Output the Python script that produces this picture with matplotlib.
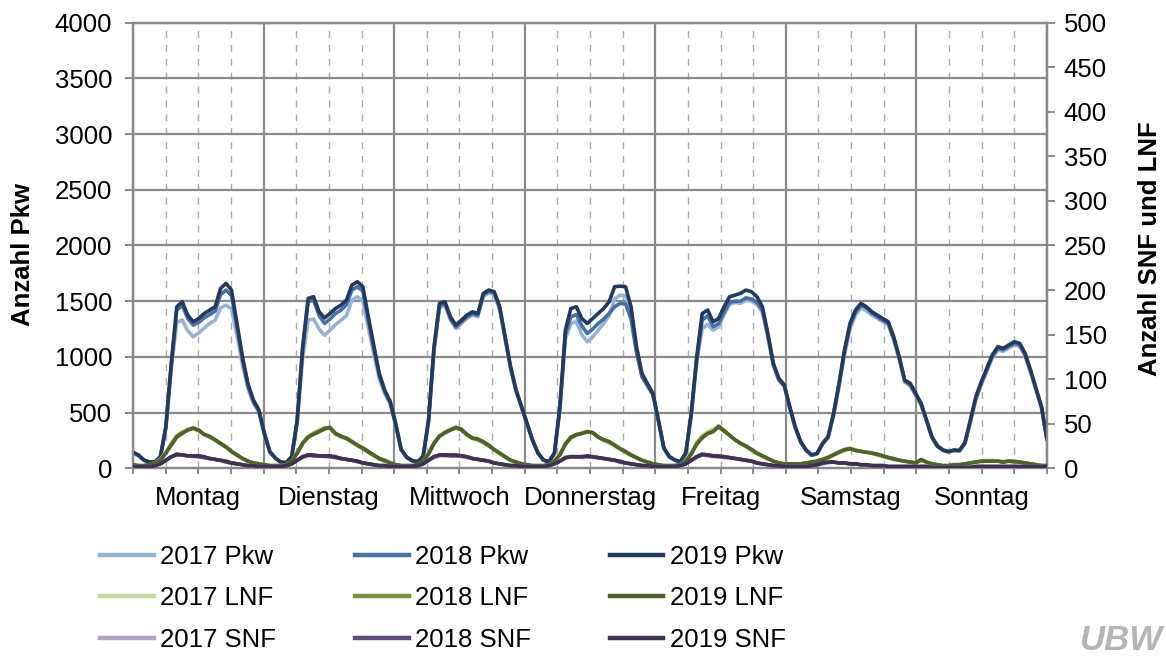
import numpy as np
import matplotlib
matplotlib.use("Agg")
import matplotlib.pyplot as plt
from matplotlib.lines import Line2D

plt.rcParams['font.family'] = ['Liberation Sans', 'DejaVu Sans']

days = ["Montag", "Dienstag", "Mittwoch", "Donnerstag", "Freitag", "Samstag", "Sonntag"]

pkw_2019 = [
    145,120,75,57,57,105,373,945,1450,1495,1375,1315,1345,1390,1420,1450,1615,1660,1600,1300,1000,760,613,523,
    315,150,92,57,50,105,433,1090,1525,1540,1405,1350,1390,1435,1465,1510,1645,1675,1630,1360,1100,850,700,600,
    400,170,100,70,60,105,433,1090,1480,1495,1360,1285,1330,1375,1405,1390,1570,1600,1585,1450,1180,910,703,553,
    404,254,137,75,60,137,553,1240,1435,1450,1345,1300,1345,1390,1435,1495,1630,1635,1630,1450,1090,852,760,673,
    433,182,105,75,60,137,493,1000,1390,1420,1315,1345,1450,1540,1555,1570,1600,1585,1540,1450,1210,942,808,748,
    553,373,240,164,120,135,224,284,493,763,1062,1300,1420,1480,1450,1405,1375,1345,1315,1180,1000,792,763,675,
    583,433,280,200,165,150,165,160,230,433,643,777,897,1017,1091,1077,1106,1136,1122,1032,882,718,553,260,
]
pkw_2018 = [
    140,115,72,55,55,100,365,930,1420,1465,1345,1285,1310,1350,1380,1410,1560,1600,1550,1270,980,745,600,515,
    310,148,90,55,50,102,425,1070,1495,1510,1370,1300,1340,1390,1420,1470,1600,1630,1590,1330,1080,835,690,590,
    395,168,98,68,58,103,425,1075,1460,1480,1345,1270,1315,1360,1390,1375,1555,1590,1575,1440,1170,900,695,548,
    400,250,135,73,58,133,540,1200,1360,1380,1280,1210,1250,1300,1340,1390,1450,1480,1475,1340,1040,820,740,660,
    428,180,103,73,58,133,485,975,1330,1370,1270,1300,1400,1490,1500,1500,1530,1520,1490,1420,1190,930,795,740,
    545,368,236,160,118,132,220,280,485,750,1045,1280,1400,1465,1440,1395,1360,1330,1300,1165,990,785,750,665,
    575,428,276,197,162,148,160,158,225,425,630,765,885,1005,1075,1065,1095,1120,1110,1020,870,710,545,255,
]
pkw_2017 = [
    135,112,70,53,53,98,355,890,1310,1330,1235,1180,1215,1260,1300,1330,1440,1465,1430,1190,930,715,585,505,
    300,145,88,53,48,100,410,990,1330,1340,1250,1195,1240,1290,1330,1370,1510,1540,1500,1260,1030,805,670,575,
    385,165,96,66,56,100,418,1050,1440,1465,1330,1255,1300,1345,1375,1360,1540,1575,1560,1425,1160,890,690,545,
    395,247,133,72,57,130,525,1160,1300,1320,1200,1135,1180,1240,1300,1370,1520,1555,1550,1380,1050,825,745,665,
    420,178,102,72,57,130,475,950,1255,1290,1240,1270,1380,1470,1490,1480,1510,1500,1470,1400,1180,925,790,735,
    535,360,232,158,116,130,215,275,470,730,1020,1250,1375,1440,1415,1375,1345,1315,1285,1150,980,775,740,655,
    565,420,272,195,160,146,158,155,220,415,615,750,870,990,1060,1050,1080,1105,1095,1005,860,700,540,250,
]

lnf_2019 = [
    4,3,3,4,6,9,17,26,35,39,43,45,43,38,36,32,28,24,19,15,11,8,6,5,
    4,3,3,3,4,8,17,28,35,38,41,44,46,39,36,34,30,26,23,19,15,11,9,6,
    4,3,3,3,4,8,16,28,36,40,43,46,44,38,34,33,30,26,21,17,13,9,7,5,
    4,3,3,3,4,8,15,27,35,38,39,41,40,35,32,30,26,22,19,15,12,9,7,5,
    4,3,3,3,4,8,16,27,34,39,41,47,42,37,32,28,25,21,17,14,11,8,6,5,
    5,5,5,6,7,8,10,12,15,18,21,22,20,19,18,17,16,14,12,11,9,8,7,6,
    10,7,5,4,3,3,4,4,5,6,7,8,8,8,8,7,8,8,7,6,5,4,3,3,
]
lnf_2018 = [
    4,3,3,4,6,9,17,27,36,40,43,45,42,38,35,32,28,24,19,15,11,8,6,5,
    4,3,3,3,4,8,17,28,35,39,42,45,45,39,36,33,30,26,22,18,14,11,8,6,
    4,3,3,3,4,8,16,28,36,40,43,45,43,38,34,32,29,25,21,17,13,9,7,5,
    4,3,3,3,4,8,15,27,34,37,39,41,40,35,32,29,26,22,18,15,12,9,7,5,
    4,3,3,3,4,8,16,28,35,39,42,46,42,37,32,28,25,21,17,14,11,8,6,5,
    5,5,5,6,7,8,10,12,15,18,20,22,20,19,18,17,15,14,12,10,9,8,7,6,
    9,7,5,4,3,3,4,4,5,6,7,8,8,8,8,7,8,7,7,6,5,4,3,3,
]
lnf_2017 = [
    4,3,3,4,6,10,18,28,37,41,44,46,43,38,35,31,27,23,18,14,11,8,6,5,
    4,3,3,3,4,8,18,29,36,40,43,46,45,38,35,33,29,25,22,18,14,10,8,6,
    4,3,3,3,4,8,17,29,37,41,44,46,43,37,33,32,29,25,20,16,12,9,7,5,
    4,3,3,3,4,8,16,28,35,38,40,42,40,35,31,29,25,21,18,14,11,9,7,5,
    4,3,3,3,4,9,17,29,37,41,44,48,43,37,32,28,24,20,16,13,10,8,6,5,
    5,5,5,6,7,8,10,13,16,19,21,23,21,19,18,17,15,13,12,10,9,8,7,6,
    9,7,5,4,3,3,4,4,5,6,7,8,9,9,8,8,8,7,7,6,5,4,3,3,
]

snf_2019 = [
    2,2,2,2,3,5,9,13,16,15,14,14,14,13,11,10,9,8,6,5,4,3,3,2,
    2,2,2,2,3,5,9,13,15,15,14,14,14,13,11,10,9,8,6,5,4,3,3,2,
    2,2,2,2,3,5,9,13,15,15,15,15,14,13,11,10,9,8,6,5,4,3,3,2,
    2,2,2,2,3,5,8,12,13,13,13,14,13,12,11,10,9,8,6,5,4,3,3,2,
    2,2,2,2,3,5,9,13,16,15,14,14,13,12,11,10,9,8,6,5,4,3,3,2,
    2,2,2,2,3,4,6,7,7,6,6,5,5,4,4,3,3,3,2,2,2,2,2,2,
    2,2,1,1,1,1,1,1,1,1,2,2,2,2,2,2,2,2,2,2,2,2,2,2,
]
snf_2018 = [
    2,2,2,2,3,5,9,13,15,15,14,14,13,12,11,10,9,7,6,5,4,3,3,2,
    2,2,2,2,3,5,9,13,15,14,14,14,13,12,11,10,9,8,6,5,4,3,3,2,
    2,2,2,2,3,5,9,13,15,15,14,14,14,13,11,10,9,8,6,5,4,3,3,2,
    2,2,2,2,3,5,8,12,13,13,13,13,13,12,11,10,9,7,6,5,4,3,3,2,
    2,2,2,2,3,5,9,13,15,15,14,13,13,12,11,10,9,8,6,5,4,3,3,2,
    2,2,2,2,3,4,6,7,7,6,6,5,5,4,4,3,3,3,2,2,2,2,2,2,
    2,2,1,1,1,1,1,1,1,1,2,2,2,2,2,2,2,2,2,2,2,2,2,2,
]
snf_2017 = [
    2,2,2,2,3,5,9,13,15,15,14,13,13,12,11,10,9,7,6,5,4,3,3,2,
    2,2,2,2,3,5,9,12,14,14,14,13,13,12,11,10,9,7,6,5,4,3,3,2,
    2,2,2,2,3,5,9,12,14,14,14,14,13,12,11,10,9,8,6,5,4,3,3,2,
    2,2,2,2,3,5,8,11,13,13,12,13,12,12,11,10,9,7,6,5,4,3,3,2,
    2,2,2,2,3,5,9,12,15,14,13,13,12,12,11,10,9,8,6,5,4,3,3,2,
    2,2,2,2,3,4,5,6,7,6,6,5,5,4,4,3,3,3,2,2,2,2,2,2,
    2,2,1,1,1,1,1,1,1,1,2,2,2,2,2,2,2,2,2,2,2,2,2,2,
]

col_pkw = ['#95B3D7', '#4472A8', '#23395D']
col_lnf = ['#C3D69B', '#77933C', '#4F6228']
col_snf = ['#B3A2C7', '#604A7B', '#3F3151']

GRID = '#8A8A8A'
FS = 18.5

fig = plt.figure(figsize=(11.66, 6.57), dpi=100)
ax = fig.add_axes([133/1166, 1-468.3/657, (1047-133)/1166, (468.3-22.7)/657])
ax2 = ax.twinx()

n = len(pkw_2019)
x = np.linspace(0, 168, n)

# grid
for k in range(0, 169, 6):
    if k % 24 == 0:
        ax.axvline(k, color=GRID, lw=1.6, zorder=0)
    else:
        ax.axvline(k, color='#AAAAAA', lw=1.0, ls=(0, (5, 5)), zorder=0)
for v in range(500, 4001, 500):
    ax.axhline(v, color=GRID, lw=1.6, zorder=0)

lw = 2.6
for yv, c in zip([pkw_2017, pkw_2018, pkw_2019], col_pkw):
    ax.plot(x, yv, color=c, lw=lw, solid_joinstyle='round', solid_capstyle='round', zorder=3)
for yv, c in zip([lnf_2017, lnf_2018, lnf_2019], col_lnf):
    ax2.plot(x, yv, color=c, lw=lw, solid_joinstyle='round', solid_capstyle='round', zorder=3)
for yv, c in zip([snf_2017, snf_2018, snf_2019], col_snf):
    ax2.plot(x, yv, color=c, lw=lw, solid_joinstyle='round', solid_capstyle='round', zorder=3)

ax.set_xlim(0, 168)
ax.set_ylim(0, 4000)
ax2.set_ylim(0, 500)
ax.set_yticks(range(0, 4001, 500))
ax2.set_yticks(range(0, 501, 50))

ax.xaxis.remove_overlapping_locs = False
ax.set_xticks(range(0, 169, 6))
ax.set_xticklabels([])
ax.set_xticks([12 + 24 * i for i in range(7)], minor=True)
ax.set_xticklabels(days, minor=True, fontsize=FS)
ax.tick_params(axis='x', which='major', direction='out', length=4.5, width=1.4, color=GRID)
ax.tick_params(axis='x', which='minor', length=0, pad=13)
ax.tick_params(axis='y', direction='out', length=6, width=1.4, color=GRID, labelsize=FS, pad=9)
ax2.tick_params(axis='y', direction='out', length=6, width=1.4, color=GRID, labelsize=FS, pad=6)

for a in (ax, ax2):
    for s in a.spines.values():
        s.set_color(GRID)
        s.set_linewidth(1.6)

fig.text(23/1166, 1-254/657, 'Anzahl Pkw', rotation=90, ha='center', va='center',
         fontsize=FS, fontweight='bold')
fig.text(1150/1166, 1-249/657, 'Anzahl SNF und LNF', rotation=90, ha='center', va='center',
         fontsize=FS, fontweight='bold')

labels = ['2017 Pkw', '2017 LNF', '2017 SNF',
          '2018 Pkw', '2018 LNF', '2018 SNF',
          '2019 Pkw', '2019 LNF', '2019 SNF']
colors = [col_pkw[0], col_lnf[0], col_snf[0],
          col_pkw[1], col_lnf[1], col_snf[1],
          col_pkw[2], col_lnf[2], col_snf[2]]
handles = [Line2D([0], [0], color=c, lw=3.2) for c in colors]
fig.legend(handles, labels, ncol=3, loc='upper left',
           bbox_to_anchor=(100/1166, 1-545/657), frameon=False, fontsize=FS,
           handlelength=2.1, handletextpad=0.25, columnspacing=3.05,
           labelspacing=0.68, borderpad=0, borderaxespad=0)

fig.text(1163/1166, 1-641/657, 'UBW', ha='right', va='center', fontsize=25,
         fontweight='bold', fontstyle='italic', color='#B5B5B5')

fig.savefig('out.png', dpi=100)
